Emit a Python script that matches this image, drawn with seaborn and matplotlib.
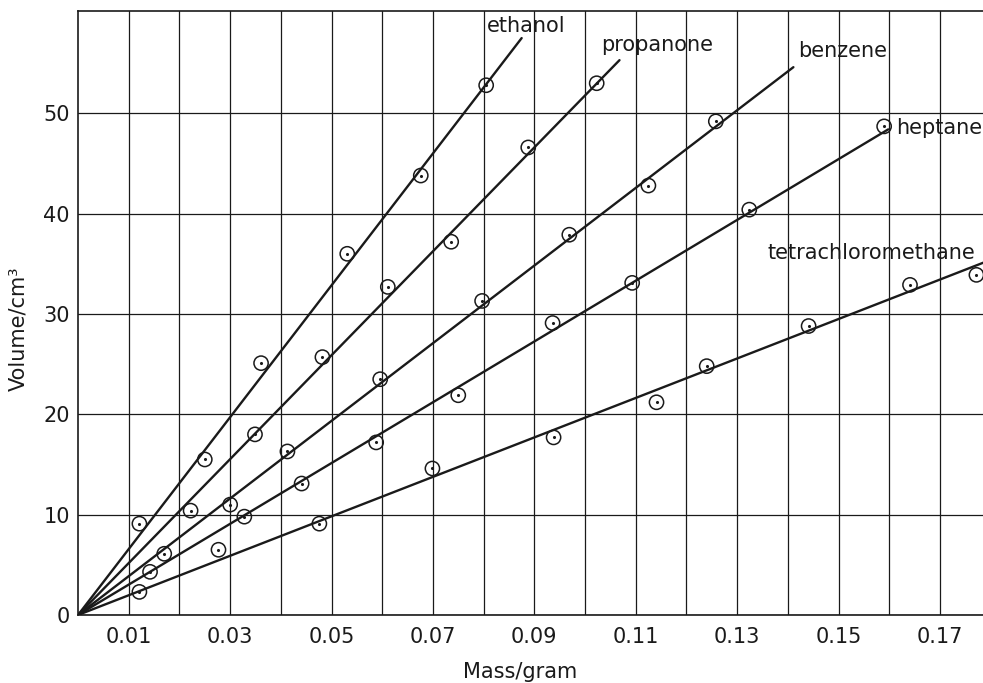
import numpy as np
import pandas as pd
import matplotlib
matplotlib.use("Agg")
import matplotlib.pyplot as plt
import seaborn as sns

ethanol_mass = [0.0121, 0.0250, 0.0361, 0.0531, 0.0676, 0.0805]
ethanol_vol = [9.1, 15.5, 25.1, 36.0, 43.8, 52.8]

propanone_mass = [0.0222, 0.0349, 0.0482, 0.0611, 0.0736, 0.0888, 0.1023]
propanone_vol = [10.4, 18.0, 25.7, 32.7, 37.2, 46.6, 53.0]

benzene_mass = [0.0170, 0.0300, 0.0413, 0.0596, 0.0797, 0.0969, 0.1125, 0.1258]
benzene_vol = [6.1, 11.0, 16.3, 23.5, 31.3, 37.9, 42.8, 49.2]

heptane_mass = [0.0142, 0.0328, 0.0441, 0.0588, 0.0750, 0.0936, 0.1093, 0.1324, 0.1590]
heptane_vol = [4.3, 9.8, 13.1, 17.2, 21.9, 29.1, 33.1, 40.4, 48.7]

tetra_mass = [0.0121, 0.0277, 0.0476, 0.0699, 0.0938, 0.1141, 0.1240, 0.1441, 0.1641, 0.1772]
tetra_vol = [2.3, 6.5, 9.1, 14.6, 17.7, 21.2, 24.8, 28.8, 32.9, 33.9]

substances = ["ethanol", "propanone", "benzene", "heptane", "tetrachloromethane"]

# best-fit lines drawn by hand: from origin to these end points
line_end_mass = [0.0875, 0.1068, 0.1411, 0.1598, 0.1790]
line_end_vol = [57.5, 55.3, 54.6, 48.4, 35.2]

xtick_vals = [0.01, 0.03, 0.05, 0.07, 0.09, 0.11, 0.13, 0.15, 0.17]
xtick_labels = ["0.01", "0.03", "0.05", "0.07", "0.09", "0.11", "0.13", "0.15", "0.17"]
ytick_vals = [0, 10, 20, 30, 40, 50]

masses = [ethanol_mass, propanone_mass, benzene_mass, heptane_mass, tetra_mass]
vols = [ethanol_vol, propanone_vol, benzene_vol, heptane_vol, tetra_vol]

points = pd.concat([pd.DataFrame({"mass": m, "volume": v, "substance": s})
                    for s, m, v in zip(substances, masses, vols)], ignore_index=True)
lines = pd.concat([pd.DataFrame({"mass": [0.0, m], "volume": [0.0, v], "substance": s})
                   for s, m, v in zip(substances, line_end_mass, line_end_vol)], ignore_index=True)

sns.set_style("white")
plt.rcParams['font.family'] = ['DejaVu Sans']
ink = "#1a1a1a"

fig = plt.figure(figsize=(9.83, 6.83), dpi=100)
ax = fig.add_axes([0.0794, 0.0996, 0.9206, 0.8843])

black = {s: ink for s in substances}
sns.lineplot(data=lines, x="mass", y="volume", hue="substance", palette=black,
             linewidth=1.7, legend=False, ax=ax, zorder=3)
sns.scatterplot(data=points, x="mass", y="volume", marker="o", s=105,
                facecolor="none", edgecolor=ink, linewidth=1.1, legend=False,
                ax=ax, zorder=4)
sns.scatterplot(data=points, x="mass", y="volume", marker="o", s=5,
                color=ink, linewidth=0, legend=False, ax=ax, zorder=5)

ax.set_xlim(0, 0.1785)
ax.set_ylim(0, 60.2)
ax.set_xticks(xtick_vals)
ax.set_xticklabels(xtick_labels)
ax.set_xticks(np.arange(0.02, 0.18, 0.02), minor=True)
ax.set_yticks(ytick_vals)
ax.grid(True, which="both", axis="x", color=ink, linewidth=0.9)
ax.grid(True, which="major", axis="y", color=ink, linewidth=0.9)
ax.set_axisbelow(True)
ax.tick_params(which="both", length=0, labelsize=15, colors=ink)
ax.tick_params(axis="x", pad=9)
ax.tick_params(axis="y", pad=6)

for side in ["left", "bottom", "top"]:
    ax.spines[side].set_color(ink)
    ax.spines[side].set_linewidth(1.2)
ax.spines["right"].set_visible(False)

ax.set_xlabel("Mass/gram", fontsize=15, color=ink)
ax.set_ylabel("Volume/cm³", fontsize=15, color=ink)
ax.xaxis.set_label_coords(0.488, -0.078)
ax.yaxis.set_label_coords(-0.055, 0.4735)

label_pos = [(0.0807, 58.7), (0.1032, 56.8), (0.1420, 56.2), (0.1613, 48.5), (0.1359, 36.1)]
for name, (lx, ly) in zip(substances, label_pos):
    ax.text(lx, ly, name, fontsize=15, color=ink, ha="left", va="center", zorder=6)

fig.savefig("out.png", dpi=100)
